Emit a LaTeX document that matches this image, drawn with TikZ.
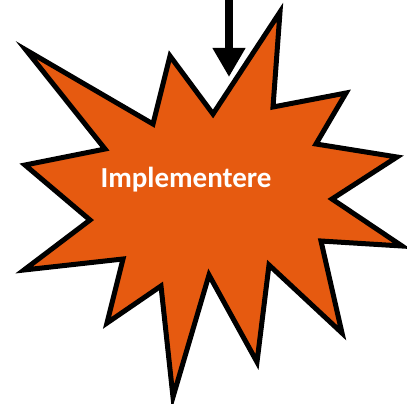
\documentclass[tikz,border=0pt]{standalone}
\usepackage{fontspec}
\setmainfont{Carlito}
\usepackage{tikz}
\usetikzlibrary{arrows.meta}
\definecolor{burstOrange}{HTML}{E65A10}

\begin{document}
\begin{tikzpicture}[x=1pt,y=-1pt,
    burst/.style={fill=burstOrange, draw=black, line width=5pt, line join=miter},
    label/.style={font=\fontsize{29}{34}\selectfont\bfseries, text=white},
    inarrow/.style={line width=8pt, -{Triangle[width=31pt,length=29pt]}}]
        \useasboundingbox (0,0) rectangle (407,404);
        % starburst outline
        \draw[burst] (26,50) -- (153,124) -- (170,56) -- (213,114) -- (280,12)
            -- (273,107) -- (346,93) -- (316,144) -- (397,157) -- (332,199)
            -- (402,246) -- (321,241) -- (342,333) -- (269,265) -- (257,362)
            -- (209,275) -- (173,397) -- (161,286) -- (107,323) -- (123,259)
            -- (24,270) -- (90,220) -- (25,165) -- (105,149) -- cycle;
        \node[label] (impl) at (186,180) {Implementere};

        \coordinate (top) at (229,0);
        \coordinate (tip) at (229,77);
        \draw[inarrow] (top) -- (tip);
    \end{tikzpicture}
\end{document}
